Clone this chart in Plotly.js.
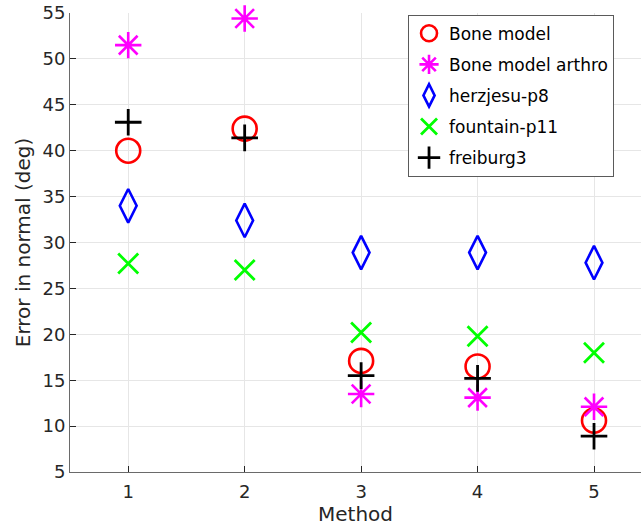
<!DOCTYPE html>
<html>
<head>
<meta charset="utf-8">
<script src="https://cdn.plot.ly/plotly-3.0.1.min.js"></script>
<style>
  html, body { margin: 0; padding: 0; background: #ffffff; }
  #chart { width: 641px; height: 529px; }
</style>
</head>
<body>
<div id="chart"></div>
<script>
// Methods on the x axis
const methods = [1, 2, 3, 4, 5];

// Error in normal (deg) per dataset
const boneModel       = [40.0, 42.4, 17.1, 16.5, 10.6];
const boneModelArthro = [51.5, 54.4, 13.5, 13.1, 12.1];
const herzjesuP8      = [34.0, 32.4, 28.9, 28.9, 27.8];
const fountainP11     = [27.7, 27.0, 20.2, 19.8, 18.0];
const freiburg3       = [43.1, 41.4, 15.5, 15.2, 8.9];

const seriesNames = ['Bone model', 'Bone model arthro', 'herzjesu-p8', 'fountain-p11', 'freiburg3'];
const xTicks = [1, 2, 3, 4, 5];
const yTicks = [5, 10, 15, 20, 25, 30, 35, 40, 45, 50, 55];

const seriesValues = [boneModel, boneModelArthro, herzjesuP8, fountainP11, freiburg3];
const styles = [
  {symbol: 'circle-open',      color: '#ff0000', size: 24, lw: 2.6},
  {symbol: 'asterisk-open',    color: '#ff00ff', size: 22, lw: 2.6},
  {symbol: 'diamond-tall-open',color: '#0000ff', size: 24, lw: 2.6},
  {symbol: 'x-thin-open',      color: '#00ff00', size: 20, lw: 2.8},
  {symbol: 'cross-thin-open',  color: '#000000', size: 19, lw: 2.8}
];

const traces = seriesValues.map((vals, i) => ({
  type: 'scatter',
  mode: 'markers',
  x: methods,
  y: vals,
  name: seriesNames[i],
  legendgroup: 'g' + i,
  marker: {
    symbol: styles[i].symbol,
    size: styles[i].size,
    color: styles[i].color,
    line: {color: styles[i].color, width: styles[i].lw}
  },
  cliponaxis: false,
  hoverinfo: 'x+y+name'
}));

const font = 'DejaVu Sans, Liberation Sans, sans-serif';
const textColor = '#262626';

const layout = {
  width: 641,
  height: 529,
  margin: {l: 70, r: 0, t: 13, b: 57},
  paper_bgcolor: '#ffffff',
  plot_bgcolor: '#ffffff',
  font: {family: font, size: 18, color: textColor},
  showlegend: true,
  legend: {
    x: 0.5920, y: 0.9963, xanchor: 'left', yanchor: 'top',
    bgcolor: '#ffffff',
    bordercolor: '#5a5a5a',
    borderwidth: 1,
    font: {family: font, size: 17, color: '#000000'},
    traceorder: 'grouped',
    tracegroupgap: 6
  },
  xaxis: {
    range: [0.5, 5.4035],
    tickmode: 'array',
    tickvals: xTicks,
    ticktext: xTicks.map(String),
    ticks: 'inside',
    ticklen: 6,
    tickcolor: '#262626',
    tickfont: {family: font, size: 18, color: textColor},
    ticklabelstandoff: 3,
    showline: true,
    linecolor: '#6a6a6a',
    linewidth: 1,
    showgrid: true,
    gridcolor: '#e6e6e6',
    gridwidth: 1,
    zeroline: false,
    title: {text: 'Method', font: {family: font, size: 20, color: textColor}, standoff: 4},
    automargin: false
  },
  yaxis: {
    range: [5, 55],
    tickmode: 'array',
    tickvals: yTicks,
    ticktext: yTicks.map(String),
    ticks: 'inside',
    ticklen: 6,
    tickcolor: '#262626',
    tickfont: {family: font, size: 18, color: textColor},
    showline: true,
    linecolor: '#6a6a6a',
    linewidth: 1,
    showgrid: true,
    gridcolor: '#e6e6e6',
    gridwidth: 1,
    zeroline: false,
    title: {text: 'Error in normal (deg)', font: {family: font, size: 20, color: textColor}, standoff: 6},
    automargin: false
  }
};

Plotly.newPlot('chart', traces, layout, {displayModeBar: false, staticPlot: true});
</script>
</body>
</html>
